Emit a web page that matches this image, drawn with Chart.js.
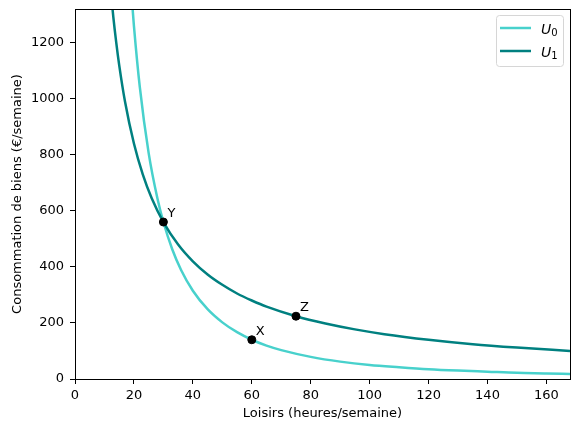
<!DOCTYPE html>
<html>
<head>
<meta charset="utf-8">
<script src="https://cdn.jsdelivr.net/npm/chart.js@4"></script>
<style>
  html, body { margin: 0; padding: 0; background: #fff; }
  canvas { display: block; }
</style>
</head>
<body>
<canvas id="chart" width="580" height="432"></canvas>
<script>
// Indifference curves
const leisureU0 = [19, 20, 22, 25, 28, 30, 33, 36, 40, 45, 50, 55, 60, 65, 70, 80, 90, 100, 110, 120, 130, 140, 150, 160, 168];
const goodsU0 = [1396, 1260, 1041, 806, 643, 560, 463, 389, 315, 249, 202, 167, 140, 119, 103, 79, 62, 50, 42, 35, 30, 26, 22, 20, 18];

const leisureU1 = [12, 13, 14, 15, 17, 20, 23, 26, 30, 35, 40, 45, 50, 55, 60, 65, 75, 85, 95, 105, 120, 135, 150, 168];
const goodsU1 = [1400, 1292, 1200, 1120, 988, 840, 730, 646, 560, 480, 420, 373, 336, 305, 280, 258, 224, 198, 177, 160, 140, 124, 112, 100];

// Marked bundles
const pointNames = ['X', 'Y', 'Z'];
const pointLeisure = [60, 30, 75];
const pointGoods = [140, 560, 224];

const xTicks = [0, 20, 40, 60, 80, 100, 120, 140, 160];
const yTicks = [0, 200, 400, 600, 800, 1000, 1200];

const seriesNames = ['U0', 'U1'];
const seriesSubs = ['0', '1'];
const seriesColors = ['#48D1CC', '#008080'];

const FONT = 'DejaVu Sans';

function toXY(xs, ys) {
  return xs.map((x, i) => ({ x: x, y: ys[i] }));
}

// labels next to the black dots
const pointLabels = {
  id: 'pointLabels',
  afterDatasetsDraw(chart) {
    const ctx = chart.ctx;
    const xs = chart.scales.x, ys = chart.scales.y;
    ctx.save();
    ctx.fillStyle = '#000';
    ctx.font = '13px "' + FONT + '"';
    ctx.textAlign = 'left';
    ctx.textBaseline = 'bottom';
    pointNames.forEach((n, i) => {
      const px = xs.getPixelForValue(pointLeisure[i]);
      const py = ys.getPixelForValue(pointGoods[i]);
      ctx.fillText(n, px + 4, py - 2);
    });
    ctx.restore();
  }
};

// full box around the plot + matplotlib-like legend
const frameAndLegend = {
  id: 'frameAndLegend',
  afterDraw(chart) {
    const ctx = chart.ctx;
    const a = chart.chartArea;
    ctx.save();
    ctx.strokeStyle = '#000';
    ctx.lineWidth = 1;
    ctx.strokeRect(Math.round(a.left) + 0.5, Math.round(a.top) + 0.5,
      Math.round(a.right - a.left), Math.round(a.bottom - a.top));

    // legend box
    const bx = a.right - 74, by = a.top + 6, bw = 67, bh = 51;
    ctx.fillStyle = 'rgba(255,255,255,0.8)';
    ctx.strokeStyle = '#d6d6d6';
    ctx.beginPath();
    ctx.roundRect(bx + 0.5, by + 0.5, bw, bh, 3);
    ctx.fill();
    ctx.stroke();

    seriesNames.forEach((name, i) => {
      const ly = by + 13 + i * 23;
      ctx.strokeStyle = seriesColors[i];
      ctx.lineWidth = 2.5;
      ctx.beginPath();
      ctx.moveTo(bx + 4, ly);
      ctx.lineTo(bx + 35, ly);
      ctx.stroke();
      ctx.fillStyle = '#000';
      ctx.textBaseline = 'alphabetic';
      ctx.textAlign = 'left';
      ctx.font = 'italic 14px "' + FONT + '"';
      ctx.fillText('U', bx + 45, ly + 6);
      const w = ctx.measureText('U').width;
      ctx.font = '10px "' + FONT + '"';
      ctx.fillText(seriesSubs[i], bx + 45 + w, ly + 8);
    });
    ctx.restore();
  }
};

const tickStyle = {
  color: '#000',
  font: { family: FONT, size: 13 }
};

new Chart(document.getElementById('chart'), {
  type: 'scatter',
  data: {
    datasets: [
      {
        label: seriesNames[0],
        data: toXY(leisureU0, goodsU0),
        showLine: true,
        borderColor: seriesColors[0],
        borderWidth: 2.5,
        pointRadius: 0,
        cubicInterpolationMode: 'monotone',
        order: 2
      },
      {
        label: seriesNames[1],
        data: toXY(leisureU1, goodsU1),
        showLine: true,
        borderColor: seriesColors[1],
        borderWidth: 2.5,
        pointRadius: 0,
        cubicInterpolationMode: 'monotone',
        order: 1
      },
      {
        label: 'points',
        data: toXY(pointLeisure, pointGoods),
        showLine: false,
        pointRadius: 4,
        pointBackgroundColor: '#000',
        pointBorderColor: '#000',
        order: 0
      }
    ]
  },
  options: {
    responsive: false,
    animation: false,
    devicePixelRatio: 1,
    layout: { padding: { top: 9, right: 10, left: 10, bottom: 11 } },
    plugins: {
      legend: { display: false },
      tooltip: { enabled: false }
    },
    scales: {
      x: {
        type: 'linear',
        min: 0,
        max: 168,
        afterBuildTicks(scale) { scale.ticks = xTicks.map(v => ({ value: v })); },
        afterFit(scale) { scale.height = 42; scale.paddingLeft = 0; scale.paddingRight = 0; },
        ticks: Object.assign({ padding: 4, maxRotation: 0, includeBounds: false }, tickStyle),
        grid: { drawOnChartArea: false, drawTicks: true, tickLength: 5, color: '#000' },
        border: { color: '#000', width: 1 },
        title: {
          display: true,
          text: 'Loisirs (heures/semaine)',
          color: '#000',
          font: { family: FONT, size: 13 },
          padding: { top: 4, bottom: 0 }
        }
      },
      y: {
        type: 'linear',
        min: 0,
        max: 1320,
        afterBuildTicks(scale) { scale.ticks = yTicks.map(v => ({ value: v })); },
        afterFit(scale) { scale.width = 65; scale.paddingTop = 0; scale.paddingBottom = 0; },
        ticks: Object.assign({ padding: 6, includeBounds: false, callback: v => String(v) }, tickStyle),
        grid: { drawOnChartArea: false, drawTicks: true, tickLength: 5, color: '#000' },
        border: { color: '#000', width: 1 },
        title: {
          display: true,
          text: 'Consommation de biens (€/semaine)',
          color: '#000',
          font: { family: FONT, size: 13 },
          padding: { top: 0, bottom: 4 }
        }
      }
    }
  },
  plugins: [pointLabels, frameAndLegend]
});
</script>
</body>
</html>
